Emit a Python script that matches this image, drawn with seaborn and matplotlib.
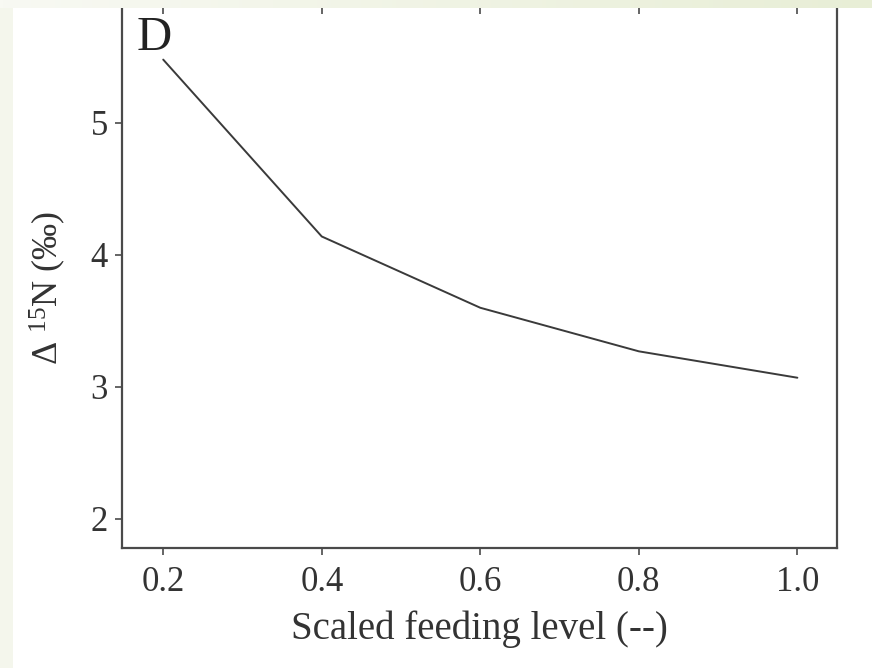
import numpy as np
import pandas as pd
import seaborn as sns
import matplotlib.pyplot as plt
from matplotlib.patches import Rectangle

# Panel D: isotope fractionation vs scaled feeding level
feeding_level = [0.2, 0.4, 0.6, 0.8, 1.0]
delta_15n = [5.48, 4.14, 3.60, 3.27, 3.07]
x_ticks = [0.2, 0.4, 0.6, 0.8, 1.0]
y_ticks = [2, 3, 4, 5]

sns.set_theme(style="ticks")
plt.rcParams['font.family'] = ['Liberation Serif', 'DejaVu Serif']
plt.rcParams['mathtext.fontset'] = 'custom'
plt.rcParams['mathtext.rm'] = 'Liberation Serif'
plt.rcParams['mathtext.it'] = 'Liberation Serif:italic'

df = pd.DataFrame({'feeding': feeding_level, 'delta': delta_15n})

fig = plt.figure(figsize=(8.72, 6.68), dpi=100)
fig.set_facecolor('white')
ax = fig.add_axes([122 / 872, 120 / 668, 715 / 872, 540 / 668])

sns.lineplot(data=df, x='feeding', y='delta', color='#3a3a3a', linewidth=1.4, ax=ax)

ax.set_xlim(0.148, 1.05)
ax.set_ylim(1.78, 5.871)
ax.set_xticks(x_ticks)
ax.set_xticklabels(['0.2', '0.4', '0.6', '0.8', '1.0'])
ax.set_yticks(y_ticks)

for side in ['left', 'bottom', 'right']:
    ax.spines[side].set_color('#4a4a4a')
    ax.spines[side].set_linewidth(1.6)
ax.spines['top'].set_visible(False)

ax.tick_params(axis='both', which='major', labelsize=25, colors='#4a4a4a',
               labelcolor='#333333', length=5, width=1.2, direction='out')
ax.tick_params(axis='x', pad=8)
ax.tick_params(axis='y', pad=5)
ax.xaxis.set_tick_params(which='major', top=True)
# top ticks point inward (only a small stub is visible)
for t in ax.xaxis.get_major_ticks():
    t.tick2line.set_marker(3)
    t.tick2line.set_markersize(4)

ax.set_xlabel('Scaled feeding level (--)', fontsize=28, color='#333333', labelpad=8)
ax.set_ylabel(r'$\Delta$ $^{15}$N (‰)', fontsize=26, color='#333333')
ax.yaxis.set_label_coords(-0.076, 0.481)

ax.text(0.02, 0.985, 'D', transform=ax.transAxes, fontsize=35, color='#222222',
        ha='left', va='top')

# page background strips
fig.add_artist(Rectangle((0, 0), 13 / 872, 1, transform=fig.transFigure,
                         facecolor='#f4f6ec', edgecolor='none', zorder=5))
grad = np.linspace(0, 1, 256).reshape(1, -1)
gax = fig.add_axes([0, 1 - 8 / 668, 1, 8 / 668], zorder=6)
gax.imshow(grad, aspect='auto', cmap=sns.blend_palette(['#f8f9f3', '#e8eed6'], as_cmap=True))
gax.set_axis_off()

plt.savefig('out.png', dpi=100, facecolor=fig.get_facecolor())
plt.close()
